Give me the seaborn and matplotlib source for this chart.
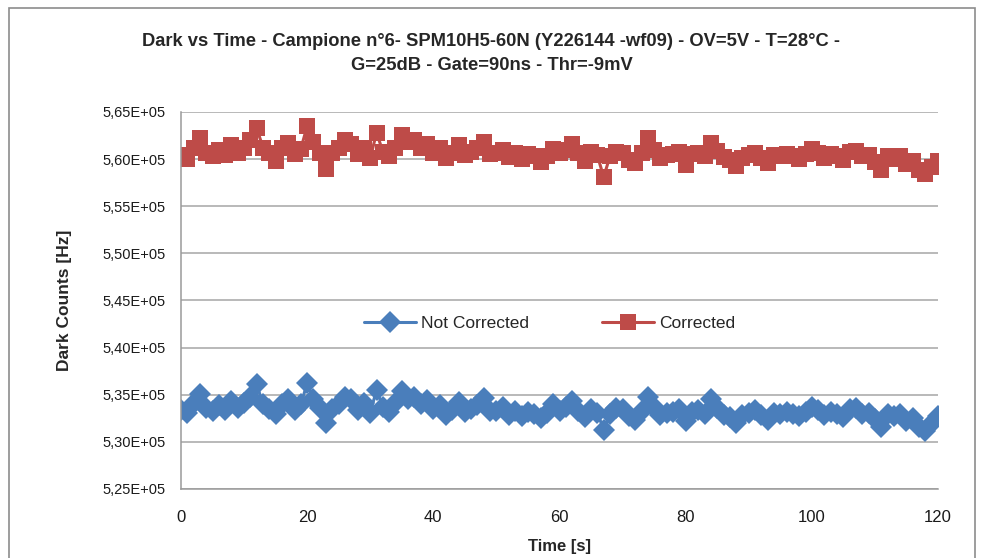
import matplotlib
matplotlib.use("Agg")
import matplotlib.pyplot as plt
import matplotlib.ticker as mticker
from matplotlib.patches import Rectangle
import numpy as np
import pandas as pd
import seaborn as sns

time_s = list(range(0, 121))

not_corrected = [
    5.334, 5.331, 5.341, 5.351, 5.336, 5.333, 5.339, 5.334, 5.343, 5.336,
    5.341, 5.348, 5.361, 5.340, 5.335, 5.330, 5.340, 5.345, 5.334, 5.340,
    5.362, 5.346, 5.336, 5.320, 5.335, 5.340, 5.348, 5.345, 5.334, 5.341,
    5.331, 5.355, 5.337, 5.332, 5.341, 5.354, 5.346, 5.348, 5.340, 5.344,
    5.335, 5.339, 5.329, 5.334, 5.342, 5.332, 5.335, 5.339, 5.347, 5.333,
    5.333, 5.337, 5.329, 5.333, 5.327, 5.332, 5.330, 5.325, 5.331, 5.340,
    5.333, 5.337, 5.343, 5.333, 5.326, 5.335, 5.331, 5.313, 5.330, 5.336,
    5.335, 5.327, 5.323, 5.333, 5.348, 5.337, 5.328, 5.331, 5.332, 5.335,
    5.322, 5.332, 5.334, 5.330, 5.345, 5.336, 5.329, 5.326, 5.320, 5.328,
    5.331, 5.334, 5.328, 5.323, 5.331, 5.330, 5.332, 5.330, 5.327, 5.332,
    5.337, 5.334, 5.328, 5.332, 5.330, 5.326, 5.335, 5.336, 5.330, 5.331,
    5.324, 5.316, 5.330, 5.327, 5.330, 5.322, 5.325, 5.316, 5.312, 5.320,
    5.327,
]

corrected = [
    5.604, 5.600, 5.612, 5.622, 5.606, 5.603, 5.610, 5.604, 5.615, 5.607,
    5.612, 5.620, 5.633, 5.612, 5.606, 5.598, 5.612, 5.617, 5.605, 5.611,
    5.635, 5.618, 5.607, 5.590, 5.606, 5.612, 5.620, 5.616, 5.605, 5.612,
    5.601, 5.628, 5.608, 5.603, 5.612, 5.626, 5.618, 5.620, 5.612, 5.616,
    5.607, 5.612, 5.601, 5.606, 5.615, 5.604, 5.608, 5.612, 5.618, 5.605,
    5.606, 5.610, 5.602, 5.606, 5.600, 5.605, 5.603, 5.597, 5.603, 5.611,
    5.606, 5.610, 5.616, 5.606, 5.598, 5.608, 5.604, 5.581, 5.603, 5.608,
    5.607, 5.599, 5.596, 5.606, 5.622, 5.610, 5.601, 5.604, 5.605, 5.608,
    5.594, 5.605, 5.607, 5.603, 5.617, 5.609, 5.602, 5.599, 5.593, 5.601,
    5.604, 5.607, 5.601, 5.596, 5.604, 5.603, 5.605, 5.603, 5.600, 5.605,
    5.611, 5.607, 5.601, 5.605, 5.603, 5.599, 5.608, 5.609, 5.603, 5.604,
    5.597, 5.588, 5.603, 5.600, 5.603, 5.595, 5.598, 5.588, 5.584, 5.592,
    5.598,
]

series_names = ["Not Corrected", "Corrected"]
x_ticks = [0, 20, 40, 60, 80, 100, 120]
y_ticks = [5.25e5, 5.30e5, 5.35e5, 5.40e5, 5.45e5, 5.50e5, 5.55e5, 5.60e5, 5.65e5]

df = pd.DataFrame({
    "Time": time_s * 2,
    "Counts": [v * 1e5 for v in not_corrected] + [v * 1e5 for v in corrected],
    "Series": [series_names[0]] * len(time_s) + [series_names[1]] * len(time_s),
})

sns.set_theme(style="white")
plt.rcParams["font.family"] = ["Liberation Sans Narrow", "Liberation Sans", "DejaVu Sans"]

fig = plt.figure(figsize=(9.83, 5.58), dpi=100)
ax = fig.add_axes([181 / 983, 1 - 489 / 558, (938 - 181) / 983, (489 - 112) / 558])

palette = {"Not Corrected": "#4A7EBB", "Corrected": "#BE4B48"}
markers = {"Not Corrected": "D", "Corrected": "s"}

sns.lineplot(data=df, x="Time", y="Counts", hue="Series", style="Series",
             markers=markers, dashes=False, palette=palette, ax=ax,
             linewidth=2.2, markersize=11, markeredgewidth=0, legend=True)

ax.set_xlim(0, 120)
ax.set_ylim(5.25e5, 5.65e5)
ax.set_xticks(x_ticks)
ax.set_yticks(y_ticks)
ax.yaxis.set_major_formatter(mticker.FuncFormatter(
    lambda v, p: ("%.2E" % v).replace(".", ",")))
ax.grid(axis="y", color="#A6A6A6", linewidth=1.1)
ax.grid(axis="x", visible=False)
for side in ["top", "right"]:
    ax.spines[side].set_visible(False)
for side in ["left", "bottom"]:
    ax.spines[side].set_color("#9A9A9A")
    ax.spines[side].set_linewidth(1.1)
ax.tick_params(axis="both", which="major", direction="out", length=5,
               color="#9A9A9A", width=1, labelcolor="#1a1a1a")
ax.tick_params(axis="x", pad=10, labelsize=12)
ax.tick_params(axis="y", pad=6, labelsize=10.5)

ax.set_xlabel("Time [s]", fontsize=12, fontweight="bold", labelpad=10)
ax.set_ylabel("Dark Counts [Hz]", fontsize=12.5, fontweight="bold", labelpad=22)

handles, labels = ax.get_legend_handles_labels()
leg = ax.legend(handles, labels, loc="center", bbox_to_anchor=(0.487, 0.44),
                ncol=2, frameon=False, fontsize=12.5, handlelength=3.0,
                columnspacing=4.2, handletextpad=0.3)

fig.text(0.5, 1 - 42 / 558,
         "Dark vs Time - Campione n°6- SPM10H5-60N (Y226144 -wf09) - OV=5V - T=28°C -",
         ha="center", va="center", fontsize=13.2, fontweight="bold")
fig.text(0.5, 1 - 66 / 558, "G=25dB - Gate=90ns - Thr=-9mV",
         ha="center", va="center", fontsize=13.2, fontweight="bold")

fig.patches.append(Rectangle((9 / 983, -0.02), (975 - 9) / 983, 1 - 8 / 558 + 0.02,
                             transform=fig.transFigure, fill=False,
                             edgecolor="#8C8C8C", linewidth=1.2))

fig.savefig("out.png", dpi=100)
